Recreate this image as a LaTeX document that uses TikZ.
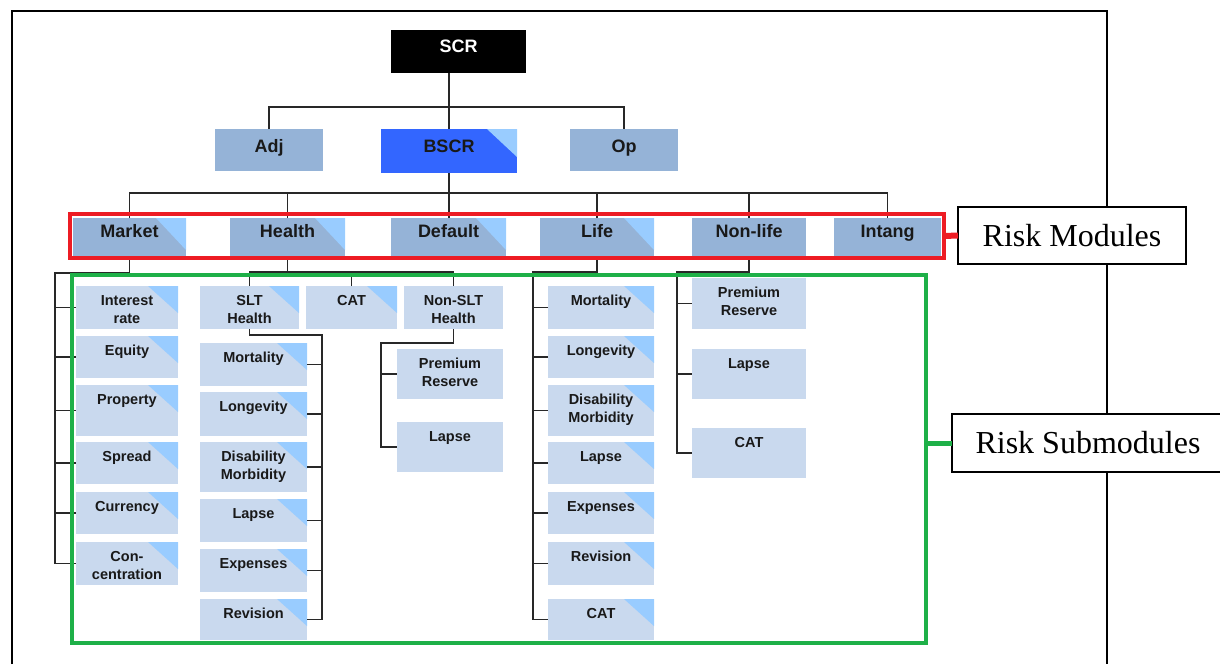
\documentclass[tikz,border=0pt]{standalone}
\usepackage{fontspec}
\newfontfamily\sansf{Liberation Sans}
\newfontfamily\seriff{Liberation Serif}
\newcommand{\modfont}{\sansf\bfseries\fontsize{18}{21}\selectfont}
\newcommand{\subfont}{\sansf\bfseries\fontsize{14.5}{18}\selectfont}
\newcommand{\bx}[4]{\parbox[c][#2pt][t]{#1pt}{\centering\rule{0pt}{#3pt}#4\par}}
\definecolor{modfill}{RGB}{149,179,215}
\definecolor{bscrfill}{RGB}{51,102,255}
\definecolor{trifill}{RGB}{153,204,255}
\definecolor{subfill}{RGB}{201,217,238}
\definecolor{redc}{RGB}{237,28,36}
\definecolor{greenc}{RGB}{30,176,72}
\definecolor{txt}{RGB}{25,25,25}
\definecolor{linec}{RGB}{40,40,40}
\tikzset{
  boxbase/.style={inner sep=0pt, outer sep=0pt, anchor=north west, text=txt},
  mod/.style={boxbase, fill=modfill, font=\modfont},
  sub/.style={boxbase, fill=subfill, font=\subfont},
  corner/.style 2 args={path picture={\fill[trifill]
      ([xshift=-#1pt]path picture bounding box.north east) --
      (path picture bounding box.north east) --
      ([yshift=-#2pt]path picture bounding box.north east) -- cycle;}},
  mcorner/.style={corner={30}{32}},
  scorner/.style={corner={30}{27}},
  conn/.style={draw=linec, line width=1.6pt},
  frameline/.style={draw=black, line width=1.5pt},
  labelbox/.style={draw=black, line width=1.5pt, fill=white, inner sep=0pt, outer sep=0pt, anchor=north west, font=\seriff\fontsize{32}{36}\selectfont},
}
\begin{document}
\begin{tikzpicture}[x=1pt, y=-1pt]
\useasboundingbox (0,0) rectangle (1220,664);
% outer frame
\draw[frameline] (12,664) -- (12,11) -- (1107,11) -- (1107,664);

% top level
\node[boxbase, fill=black, text=white, font=\modfont] (scr) at (391,30) {\bx{135}{43}{22}{SCR}};
\node[mod] (adj) at (215,129) {\bx{108}{42}{23}{Adj}};
\node[mod, fill=bscrfill, corner={30}{28}] (bscr) at (381,129) {\bx{136}{44}{23}{BSCR}};
\node[mod] (op) at (570,129) {\bx{108}{42}{23}{Op}};

% modules
\node[mod, mcorner] (market) at (73,218) {\bx{113}{39}{19}{Market}};
\node[mod, mcorner] (health) at (230,218) {\bx{115}{39}{19}{Health}};
\node[mod, mcorner] (default) at (391,218) {\bx{115}{39}{19}{Default}};
\node[mod, mcorner] (life) at (540,218) {\bx{114}{39}{19}{Life}};
\node[mod] (nonlife) at (692,218) {\bx{114}{39}{19}{Non-life}};
\node[mod] (intang) at (834,218) {\bx{107}{39}{19}{Intang}};

% market submodules
\node[sub, scorner] (irate) at (76,286) {\bx{102}{43}{19}{Interest\\rate}};
\node[sub, scorner] (equity) at (76,336) {\bx{102}{42}{19}{Equity}};
\node[sub, scorner] (property) at (76,385) {\bx{102}{51}{19}{Property}};
\node[sub, scorner] (spread) at (76,442) {\bx{102}{42}{19}{Spread}};
\node[sub, scorner] (currency) at (76,492) {\bx{102}{42}{19}{Currency}};
\node[sub, scorner] (conc) at (76,542) {\bx{102}{43}{19}{Con-\\centration}};

% health submodules
\node[sub, scorner] (slt) at (200,286) {\bx{99}{43}{19}{SLT\\Health}};
\node[sub, scorner] (hcat) at (306,286) {\bx{91}{43}{19}{CAT}};
\node[sub] (nslt) at (404,286) {\bx{99}{43}{19}{Non-SLT\\Health}};

\node[sub, scorner] (smort) at (200,343) {\bx{107}{43}{19}{Mortality}};
\node[sub, scorner] (slong) at (200,392) {\bx{107}{44}{19}{Longevity}};
\node[sub, scorner] (sdis) at (200,442) {\bx{107}{50}{19}{Disability\\Morbidity}};
\node[sub, scorner] (slapse) at (200,499) {\bx{107}{43}{19}{Lapse}};
\node[sub, scorner] (sexp) at (200,549) {\bx{107}{43}{19}{Expenses}};
\node[sub, scorner] (srev) at (200,599) {\bx{107}{41}{19}{Revision}};

\node[sub] (nprem) at (397,349) {\bx{106}{50}{19}{Premium\\Reserve}};
\node[sub] (nlapse) at (397,422) {\bx{106}{50}{19}{Lapse}};

% life submodules
\node[sub, scorner] (lmort) at (548,286) {\bx{106}{43}{19}{Mortality}};
\node[sub, scorner] (llong) at (548,336) {\bx{106}{42}{19}{Longevity}};
\node[sub, scorner] (ldis) at (548,385) {\bx{106}{51}{19}{Disability\\Morbidity}};
\node[sub, scorner] (llapse) at (548,442) {\bx{106}{42}{19}{Lapse}};
\node[sub, scorner] (lexp) at (548,492) {\bx{106}{42}{19}{Expenses}};
\node[sub, scorner] (lrev) at (548,542) {\bx{106}{43}{19}{Revision}};
\node[sub, scorner] (lcat) at (548,599) {\bx{106}{41}{19}{CAT}};

% non-life submodules
\node[sub] (nlprem) at (692,278) {\bx{114}{51}{19}{Premium\\Reserve}};
\node[sub] (nllapse) at (692,349) {\bx{114}{50}{19}{Lapse}};
\node[sub] (nlcat) at (692,428) {\bx{114}{50}{19}{CAT}};

% connectors top
\draw[conn] (scr.south -| bscr.north) -- (bscr.north);
\draw[conn] (adj.north) -- ++(0,-22) -| (op.north);
\draw[conn] (market.north) -- ++(0,-25) -| (intang.north);
\draw[conn] (bscr.south) -- (bscr.south |- default.north);
\draw[conn] (health.north) -- ++(0,-25);
\draw[conn] (life.north) -- ++(0,-25);
\draw[conn] (nonlife.north) -- ++(0,-25);

% market tree
\coordinate (mspine) at (55,273);
\draw[conn] (market.south) |- (mspine) |- (conc.west);
\foreach \n in {irate,equity,property,spread,currency}
  \draw[conn] (mspine |- \n.west) -- (\n.west);

% health tree
\draw[conn] (health.south) -- ++(0,15);
\draw[conn] (slt.north) -- ++(0,-14) -| (nslt.north);
\draw[conn] (hcat.north) -- ++(0,-14);
\coordinate (sspine) at (322,335);
\draw[conn] (slt.south) |- (sspine) |- (srev.east);
\foreach \n in {smort,slong,sdis,slapse,sexp}
  \draw[conn] (sspine |- \n.east) -- (\n.east);
\coordinate (nspine) at (381,343);
\draw[conn] (nslt.south) |- (nspine) |- (nlapse.west);
\draw[conn] (nspine |- nprem.west) -- (nprem.west);

% life tree
\coordinate (lspine) at (533,272);
\draw[conn] (life.south) |- (lspine) |- (lcat.west);
\foreach \n in {lmort,llong,ldis,llapse,lexp,lrev}
  \draw[conn] (lspine |- \n.west) -- (\n.west);

% non-life tree
\coordinate (nlspine) at (677,272);
\draw[conn] (nonlife.south) |- (nlspine) |- (nlcat.west);
\foreach \n in {nlprem,nllapse}
  \draw[conn] (nlspine |- \n.west) -- (\n.west);

% highlight frames
\node[draw=redc, line width=4pt, inner sep=0pt, outer sep=0pt, anchor=north west, minimum width=874pt, minimum height=44pt] (rbox) at (70,214) {};
\node[draw=greenc, line width=4pt, inner sep=0pt, outer sep=0pt, anchor=north west, minimum width=854pt, minimum height=368pt] (gbox) at (72,275) {};

% labels
\node[labelbox, minimum width=228pt, minimum height=57pt] (rmod) at (958,207) {Risk Modules};
\node[labelbox, minimum width=272pt, minimum height=58pt] (rsub) at (952,414) {Risk Submodules};
\draw[redc, line width=6pt] (rbox.east) -- (rmod.west);
\draw[greenc, line width=5pt] (gbox.east |- rsub.west) -- (rsub.west);
\end{tikzpicture}
\end{document}
